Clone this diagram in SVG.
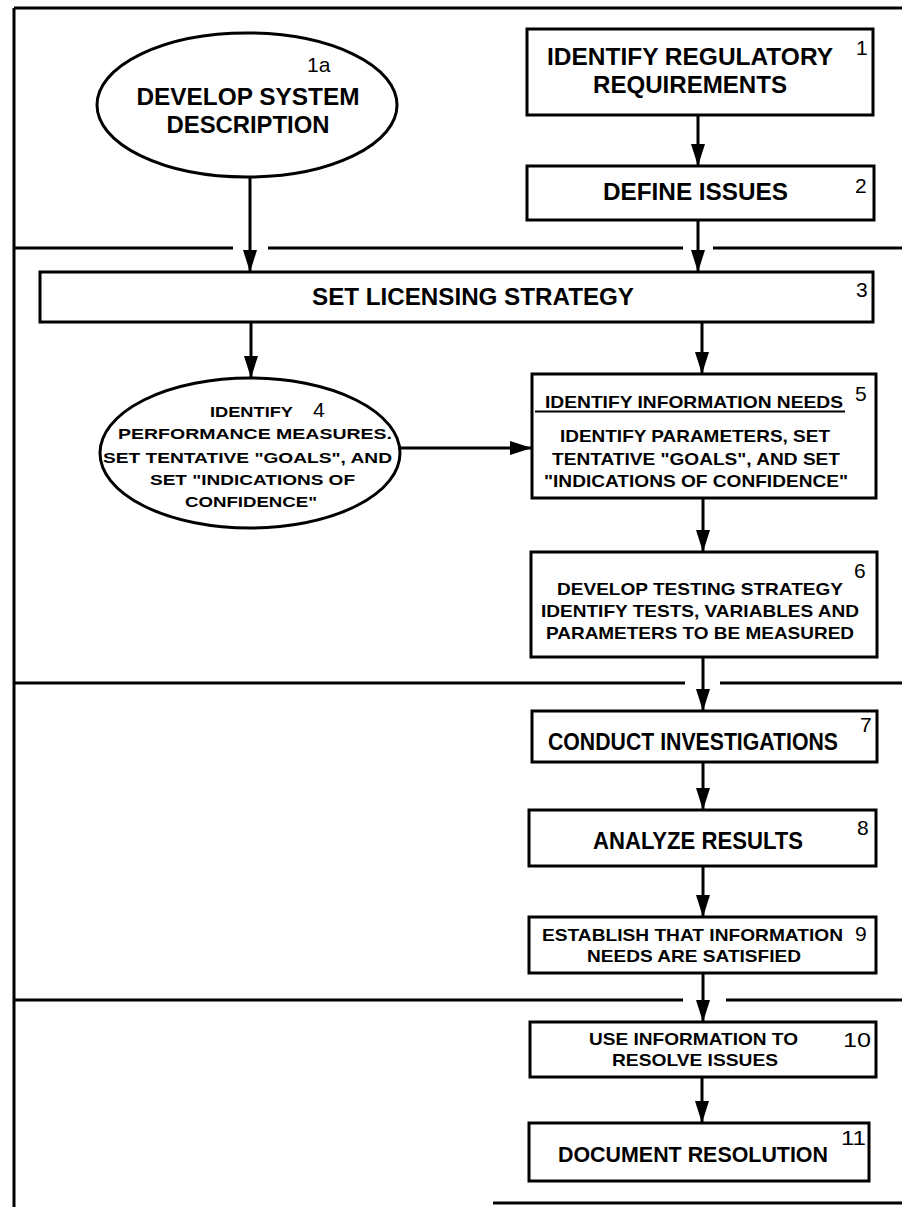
<svg xmlns="http://www.w3.org/2000/svg" width="902" height="1207" viewBox="0 0 902 1207">
  <defs>
    <marker id="ah" viewBox="0 0 22 14" refX="22" refY="7" markerWidth="22" markerHeight="14" markerUnits="userSpaceOnUse" orient="auto">
      <path d="M0,0 L22,7 L0,14 z" fill="#000"/>
    </marker>
    <style>
      .shape { fill: #fff; stroke: #000; stroke-width: 3; }
      .rule { fill: none; stroke: #000; stroke-width: 3; }
      .edge { fill: none; stroke: #000; stroke-width: 3; marker-end: url(#ah); }
      .big { font-family: "Liberation Sans", Arial, sans-serif; font-weight: bold; font-size: 24px; fill: #000; text-anchor: middle; }
      .mid { font-family: "Liberation Sans", Arial, sans-serif; font-weight: bold; font-size: 23px; fill: #000; text-anchor: middle; }
      .wide { font-family: "Liberation Sans", Arial, sans-serif; font-weight: bold; font-size: 17px; fill: #000; text-anchor: middle; }
      .small { font-family: "Liberation Sans", Arial, sans-serif; font-weight: bold; font-size: 15.5px; fill: #000; text-anchor: middle; }
      .num { font-family: "Liberation Sans", Arial, sans-serif; font-size: 21px; fill: #000; }
    </style>
  </defs>
  <rect width="902" height="1207" fill="#fff"/>

  <!-- frame and phase separators -->
  <g id="frame">
    <path class="rule" d="M14,8 H902 M14,8 V1207"/>
    <path class="rule" d="M14,248 H233 M268,248 H683 M713,248 H902"/>
    <path class="rule" d="M14,683 H685 M720,683 H902"/>
    <path class="rule" d="M14,1000 H683 M726,1000 H902"/>
    <path class="rule" d="M493,1203 H902"/>
  </g>

  <!-- connectors -->
  <g id="connectors">
    <line class="edge" x1="250" y1="177" x2="250" y2="272"/>
    <line class="edge" x1="698" y1="115" x2="698" y2="166"/>
    <line class="edge" x1="698" y1="220" x2="698" y2="272"/>
    <line class="edge" x1="251" y1="322" x2="251" y2="378"/>
    <line class="edge" x1="702" y1="322" x2="702" y2="374"/>
    <line class="edge" x1="397" y1="448" x2="532" y2="448"/>
    <line class="edge" x1="703" y1="498" x2="703" y2="552"/>
    <line class="edge" x1="703" y1="657" x2="703" y2="711"/>
    <line class="edge" x1="703" y1="762" x2="703" y2="810"/>
    <line class="edge" x1="703" y1="866" x2="703" y2="917"/>
    <line class="edge" x1="703" y1="973" x2="703" y2="1022"/>
    <line class="edge" x1="702" y1="1077" x2="702" y2="1123"/>
  </g>

  <g id="node-1a">
    <ellipse class="shape" cx="247" cy="105" rx="150" ry="72"/>
    <text class="num" x="307" y="72">1a</text>
    <text class="big" x="248" y="105" textLength="223" lengthAdjust="spacingAndGlyphs">DEVELOP SYSTEM</text>
    <text class="big" x="248" y="133" textLength="163" lengthAdjust="spacingAndGlyphs">DESCRIPTION</text>
  </g>

  <g id="node-1">
    <rect class="shape" x="527" y="29" width="346" height="86"/>
    <text class="big" x="690" y="65" textLength="286" lengthAdjust="spacingAndGlyphs">IDENTIFY REGULATORY</text>
    <text class="big" x="690" y="93" textLength="194" lengthAdjust="spacingAndGlyphs">REQUIREMENTS</text>
    <text class="num" x="856" y="55">1</text>
  </g>

  <g id="node-2">
    <rect class="shape" x="527" y="166" width="347" height="54"/>
    <text class="big" x="695.5" y="200" textLength="185" lengthAdjust="spacingAndGlyphs">DEFINE ISSUES</text>
    <text class="num" x="855" y="193">2</text>
  </g>

  <g id="node-3">
    <rect class="shape" x="40" y="272" width="833" height="50"/>
    <text class="big" x="473" y="305" textLength="322" lengthAdjust="spacingAndGlyphs">SET LICENSING STRATEGY</text>
    <text class="num" x="856" y="297">3</text>
  </g>

  <g id="node-4">
    <ellipse class="shape" cx="250" cy="453" rx="150" ry="75"/>
    <text class="small" x="251.5" y="417" textLength="83" lengthAdjust="spacingAndGlyphs">IDENTIFY</text>
    <text class="num" x="313" y="417">4</text>
    <text class="small" x="255" y="439" textLength="274" lengthAdjust="spacingAndGlyphs">PERFORMANCE MEASURES.</text>
    <text class="small" x="247.5" y="463" textLength="289" lengthAdjust="spacingAndGlyphs">SET TENTATIVE "GOALS", AND</text>
    <text class="small" x="252.5" y="485" textLength="205" lengthAdjust="spacingAndGlyphs">SET "INDICATIONS OF</text>
    <text class="small" x="251" y="507" textLength="132" lengthAdjust="spacingAndGlyphs">CONFIDENCE"</text>
  </g>

  <g id="node-5">
    <rect class="shape" x="532" y="374" width="344" height="124"/>
    <text class="wide" x="694" y="408" textLength="298" lengthAdjust="spacingAndGlyphs">IDENTIFY INFORMATION NEEDS</text>
    <line x1="535" y1="411.5" x2="845" y2="411.5" stroke="#000" stroke-width="2"/>
    <text class="num" x="855" y="401">5</text>
    <text class="wide" x="695" y="442" textLength="270" lengthAdjust="spacingAndGlyphs">IDENTIFY PARAMETERS, SET</text>
    <text class="wide" x="696" y="465" textLength="288" lengthAdjust="spacingAndGlyphs">TENTATIVE "GOALS", AND SET</text>
    <text class="wide" x="696" y="487" textLength="304" lengthAdjust="spacingAndGlyphs">"INDICATIONS OF CONFIDENCE"</text>
  </g>

  <g id="node-6">
    <rect class="shape" x="531" y="552" width="346" height="105"/>
    <text class="num" x="854" y="578">6</text>
    <text class="wide" x="700" y="595" textLength="286" lengthAdjust="spacingAndGlyphs">DEVELOP TESTING STRATEGY</text>
    <text class="wide" x="700" y="617" textLength="318" lengthAdjust="spacingAndGlyphs">IDENTIFY TESTS, VARIABLES AND</text>
    <text class="wide" x="700" y="639" textLength="308" lengthAdjust="spacingAndGlyphs">PARAMETERS TO BE MEASURED</text>
  </g>

  <g id="node-7">
    <rect class="shape" x="532" y="711" width="345" height="51"/>
    <text class="mid" x="693" y="750" textLength="290" lengthAdjust="spacingAndGlyphs">CONDUCT INVESTIGATIONS</text>
    <text class="num" x="860" y="732">7</text>
  </g>

  <g id="node-8">
    <rect class="shape" x="529" y="810" width="347" height="56"/>
    <text class="mid" x="698" y="849" textLength="210" lengthAdjust="spacingAndGlyphs">ANALYZE RESULTS</text>
    <text class="num" x="857" y="835">8</text>
  </g>

  <g id="node-9">
    <rect class="shape" x="529" y="917" width="347" height="56"/>
    <text class="wide" x="692.5" y="941" textLength="301" lengthAdjust="spacingAndGlyphs">ESTABLISH THAT INFORMATION</text>
    <text class="num" x="855" y="941">9</text>
    <text class="wide" x="694" y="962" textLength="214" lengthAdjust="spacingAndGlyphs">NEEDS ARE SATISFIED</text>
  </g>

  <g id="node-10">
    <rect class="shape" x="530" y="1022" width="346" height="55"/>
    <text class="wide" x="693.5" y="1045" textLength="209" lengthAdjust="spacingAndGlyphs">USE INFORMATION TO</text>
    <text class="wide" x="695" y="1066" textLength="166" lengthAdjust="spacingAndGlyphs">RESOLVE ISSUES</text>
    <text class="num" x="843" y="1047" textLength="28" lengthAdjust="spacingAndGlyphs">10</text>
  </g>

  <g id="node-11">
    <rect class="shape" x="529" y="1123" width="340" height="58"/>
    <text class="big" x="693" y="1162" style="font-size:22px" textLength="270" lengthAdjust="spacingAndGlyphs">DOCUMENT RESOLUTION</text>
    <text class="num" x="841" y="1145" textLength="25" lengthAdjust="spacingAndGlyphs">11</text>
  </g>
</svg>
